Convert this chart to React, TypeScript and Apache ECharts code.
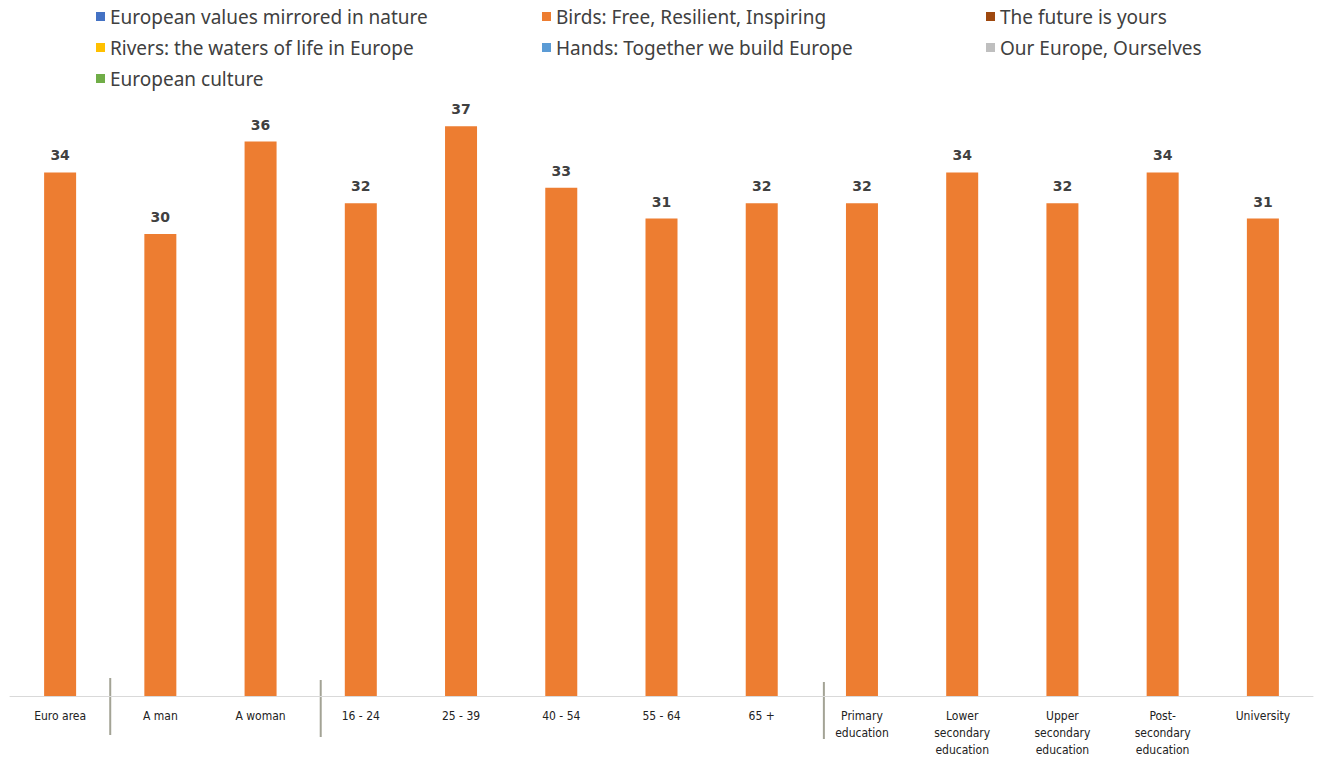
import React, { useEffect, useRef } from "react";
import * as echarts from "echarts";

const categories = [
  "Euro area", "A man", "A woman", "16 - 24", "25 - 39", "40 - 54", "55 - 64", "65 +",
  "Primary\neducation", "Lower\nsecondary\neducation", "Upper\nsecondary\neducation",
  "Post-\nsecondary\neducation", "University",
];
const seriesNames = [
  "European values mirrored in nature",
  "Birds: Free, Resilient, Inspiring",
  "The future is yours",
  "Rivers: the waters of life in Europe",
  "Hands: Together we build Europe",
  "Our Europe, Ourselves",
  "European culture",
];
const seriesColors = ["#4472C4", "#ED7D31", "#9E480E", "#FFC000", "#5B9BD5", "#BFBFBF", "#70AD47"];
const birdsValues = [34, 30, 36, 32, 37, 33, 31, 32, 32, 34, 32, 34, 31];
// separator positions, in category-index units
const separatorPositions = [0.5, 2.6, 7.62];

export default function App() {
  const ref = useRef<HTMLDivElement>(null);
  useEffect(() => {
    if (!ref.current) return;
    const chart = echarts.init(ref.current, null, { renderer: "svg" });
    const legendText = { fontFamily: "Noto Sans", fontSize: 19, color: "#404040" };
    const mkLegend = (left: number, data: string[]) => ({
      left, top: 2, orient: "vertical", itemWidth: 9, itemHeight: 9, itemGap: 12,
      icon: "rect", textStyle: legendText, data, selectedMode: false,
    });
    const series = seriesNames.map((name, i) => ({
      name,
      type: "bar",
      stack: "all",
      barWidth: 32,
      itemStyle: { color: seriesColors[i] },
      data: name === seriesNames[1] ? birdsValues : categories.map(() => null),
      label: name === seriesNames[1] ? {
        show: true, position: "top", distance: 10,
        fontFamily: "DejaVu Sans", fontWeight: "bold", fontSize: 14, color: "#404040",
      } : { show: false },
    }));
    chart.setOption({
      animation: false,
      legend: [
        mkLegend(91, [seriesNames[0], seriesNames[3], seriesNames[6]]),
        mkLegend(537, [seriesNames[1], seriesNames[4]]),
        mkLegend(981, [seriesNames[2], seriesNames[5]]),
      ],
      grid: { left: 10, right: 5, top: 80, bottom: 60, containLabel: false },
      xAxis: {
        type: "category",
        data: categories,
        axisLine: { lineStyle: { color: "#D9D9D9", width: 1 } },
        axisTick: { show: false },
        axisLabel: {
          interval: 0, margin: 11, fontFamily: "DejaVu Sans Condensed", fontSize: 12,
          color: "#222", lineHeight: 17,
        },
      },
      yAxis: { type: "value", min: 0, max: 40, show: false },
      series,
    });
    const x0 = chart.convertToPixel({ xAxisIndex: 0 }, 0) as number;
    const x1 = chart.convertToPixel({ xAxisIndex: 0 }, 1) as number;
    const step = x1 - x0;
    chart.setOption({
      graphic: separatorPositions.map((p, i) => ({
        type: "line",
        shape: { x1: x0 + p * step, y1: 678 + i * 2, x2: x0 + p * step, y2: 735 + i * 2 },
        style: { stroke: "#A3A395", lineWidth: 2 },
      })),
    });
    return () => chart.dispose();
  }, []);
  return (
    <div
      ref={ref}
      style={{ position: "fixed", left: 0, top: 0, width: 1318, height: 758, background: "#fff" }}
    />
  );
}
